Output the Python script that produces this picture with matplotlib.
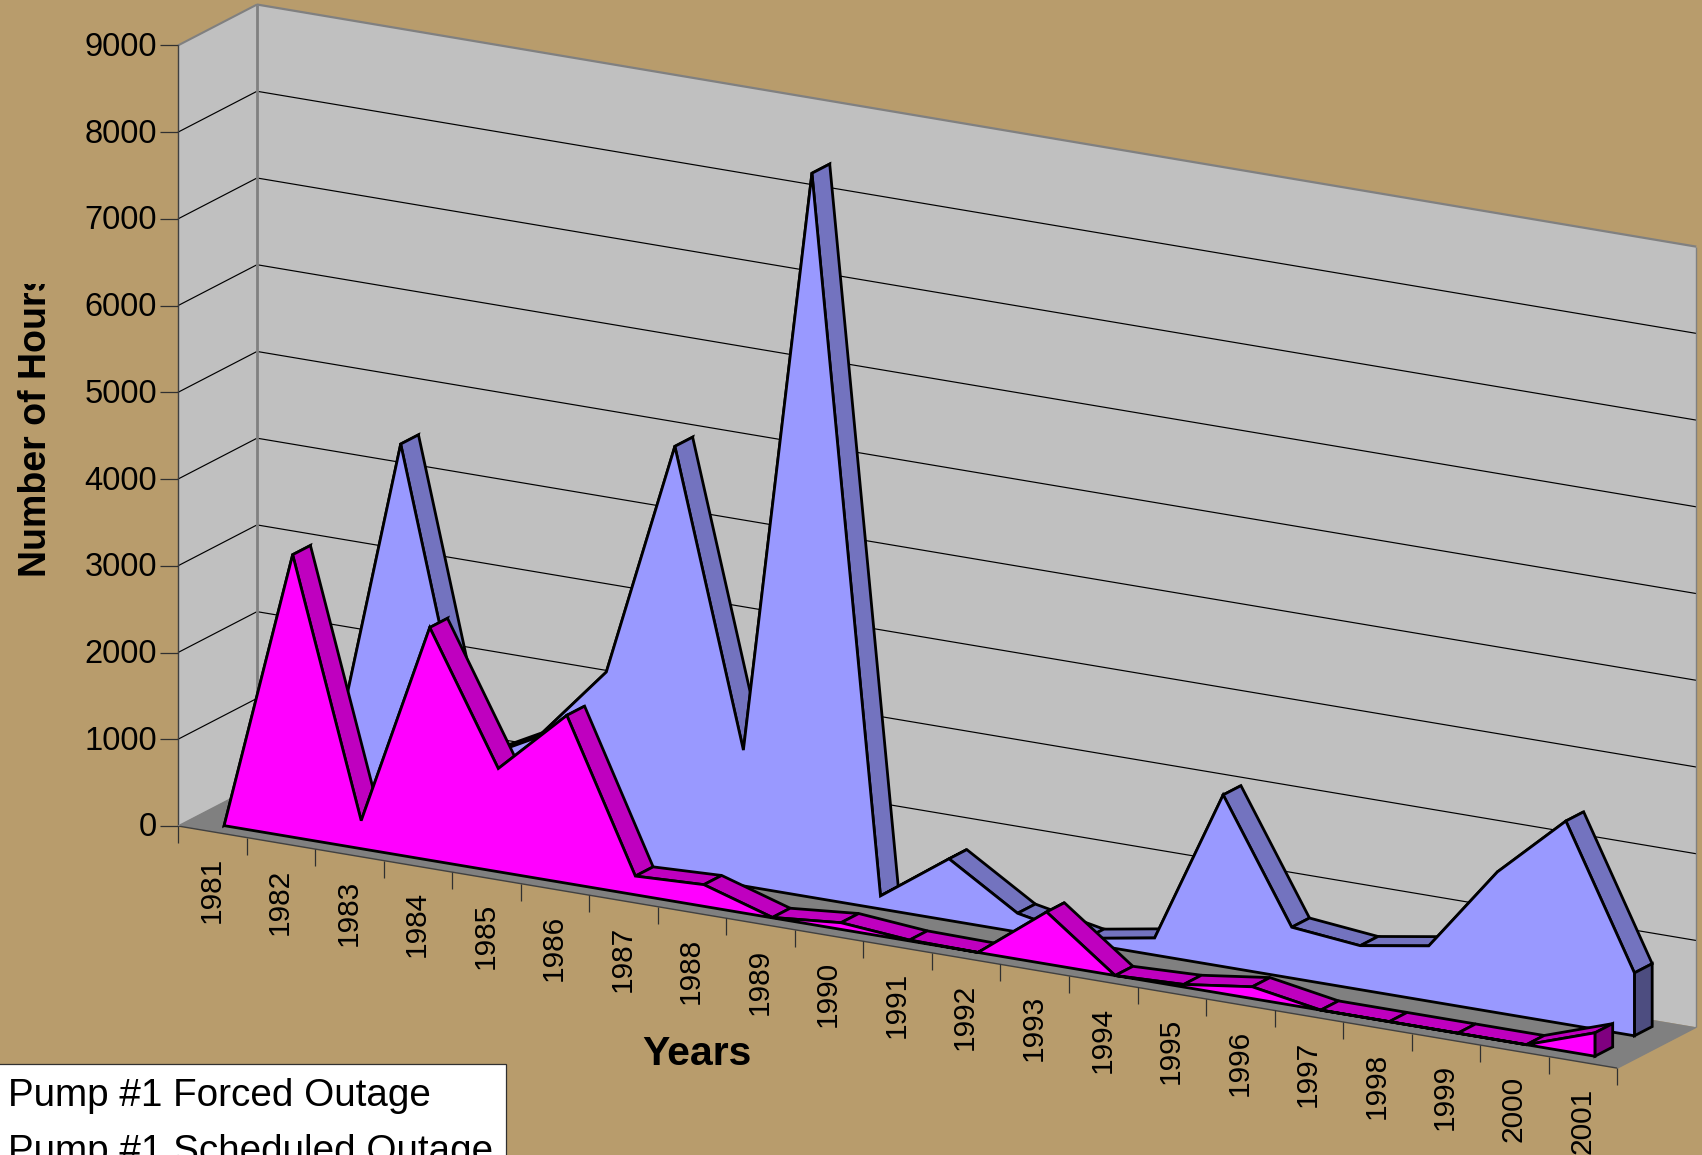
import numpy as np
import matplotlib
matplotlib.use("Agg")
import matplotlib.pyplot as plt
from matplotlib.patches import Polygon, Rectangle
from matplotlib.transforms import Bbox

plt.rcParams['font.family'] = ['Liberation Sans', 'DejaVu Sans']

years = list(range(1981, 2002))
forced = [600, 600, 4430, 900, 1316, 2200, 4935, 1566, 8350, 150, 711, 216, 60, 197, 1980, 587, 507, 638, 1623, 2343, 725]
scheduled = [0, 3257, 323, 2683, 1190, 1936, 216, 250, 5, 77, 10, 0, 600, 0, 30, 136, 0, 0, 0, 0, 270]
y_ticks = list(range(0, 10000, 1000))
series_names = ["Pump #1 Forced Outage", "Pump #1 Scheduled Outage"]
x_title = "Years"
y_title = "Number of Hours"

BG = "#B89C6C"; WALL = "#C0C0C0"; FLOOR = "#808080"; EDGE = "#808080"
BLUE = ("#9999FF", "#7373BF", "#4D4D80")
PINK = ("#FF00FF", "#BF00BF", "#800080")

# Oblique projection of (category, value, depth) on to figure pixels
X0, Y0, CX, CY, VY, DX, DY = 178.0, 826.0, 68.54, 11.53, 0.08673, 79.0, -40.9
def P(c, v, d):
    return (X0 + np.asarray(c) * CX + d * DX, Y0 + np.asarray(c) * CY - np.asarray(v) * VY + d * DY)

fig = plt.figure(figsize=(17.02, 11.55), dpi=100, facecolor=BG)
ax = fig.add_axes([0, 0, 1, 1])
ax.set_xlim(0, 1702); ax.set_ylim(1155, 0); ax.axis("off")
N = len(years)
VMAX = y_ticks[-1]

def poly(pts, fc, ec="none", lw=0, z=1):
    ax.add_patch(Polygon(pts, closed=True, facecolor=fc, edgecolor=ec, linewidth=lw, zorder=z, joinstyle="miter"))

def line(a, b, color="k", lw=0.8, z=2):
    ax.plot([a[0], b[0]], [a[1], b[1]], color=color, lw=lw, zorder=z, solid_capstyle="butt")

# Walls and floor
poly([P(0, 0, 0), P(0, 0, 1), P(0, VMAX, 1), P(0, VMAX, 0)], WALL)
poly([P(0, 0, 1), P(N, 0, 1), P(N, VMAX, 1), P(0, VMAX, 1)], WALL)
poly([P(0, 0, 0), P(N, 0, 0), P(N, 0, 1), P(0, 0, 1)], FLOOR, z=1.5)

# Gridlines
for v in y_ticks[1:-1]:
    line(P(0, v, 0), P(0, v, 1), lw=0.85)
    line(P(0, v, 1), P(N, v, 1), lw=0.85)

# Wall edges
line(P(0, 0, 1), P(0, VMAX, 1), EDGE, 2, 2.2)
line(P(0, VMAX, 0), P(0, VMAX, 1), EDGE, 1.5, 2.2)
line(P(0, VMAX, 1), P(N, VMAX, 1), EDGE, 1.6, 2.2)
line(P(N, 0, 1), P(N, VMAX, 1), EDGE, 1, 2.2)
line(P(0, 0, 0), P(0, VMAX, 0), "#404040", 1, 2.2)
line(P(0, 0, 0), P(N, 0, 0), "#404040", 1, 2.2)
line(P(0, 0, 0), P(0, 0, 1), EDGE, 1, 2.2)
line(P(N, 0, 0), P(N, 0, 1), EDGE, 1, 2.2)

# Axis ticks and labels
for v in y_ticks:
    x, y = P(0, v, 0)
    ax.plot([x - 18, x], [y, y], color="#303030", lw=0.9, zorder=2.3, solid_capstyle="butt")
    ax.text(x - 21, y + 2, str(v), ha="right", va="center", fontsize=23.5, color="k")
for i in range(N + 1):
    x, y = P(i, 0, 0)
    ax.plot([x, x], [y, y + 17], color="#303030", lw=0.9, zorder=2.3, solid_capstyle="butt")
for i, yr in enumerate(years):
    x, y = P(i + 0.5, 0, 0)
    ax.text(x - 1, y + 25, str(yr), rotation=90, ha="center", va="top", fontsize=21.5, color="k")

ax.text(697, 1054, x_title, ha="center", va="center", fontsize=29.5, fontweight="bold")
t = ax.text(36.5, 577, y_title, rotation=90, ha="center", va="bottom", fontsize=27, fontweight="bold")
t.set_clip_box(Bbox([[0, 1155 - 577], [70, 1155 - 284]]))
t.set_clip_on(True)

# Series
LW = 2.0
def draw_area(vals, d0, d1, cols, z):
    cats = np.arange(N) + 0.5
    vals = np.asarray(vals, float)
    for i in range(N - 1):
        poly([P(cats[i], vals[i], d0), P(cats[i + 1], vals[i + 1], d0),
              P(cats[i + 1], vals[i + 1], d1), P(cats[i], vals[i], d1)], cols[1], "k", LW, z + 0.1)
    poly([P(cats[-1], 0, d0), P(cats[-1], vals[-1], d0),
          P(cats[-1], vals[-1], d1), P(cats[-1], 0, d1)], cols[2], "k", LW, z + 0.2)
    front = [P(cats[0], 0, d0)] + [P(c, v, d0) for c, v in zip(cats, vals)] + [P(cats[-1], 0, d0)]
    poly(front, cols[0], "k", LW, z + 0.3)

draw_area(forced, 0.65, 0.875, BLUE, 3)
draw_area(scheduled, 0.15, 0.375, PINK, 4)

# Legend box, which runs off the figure
ax.add_patch(Rectangle((-3, 1064), 509, 100, facecolor="white", edgecolor="#303030", lw=0.9, zorder=6))
ax.text(8, 1106, series_names[0], ha="left", va="baseline", fontsize=27.8, color="k", zorder=7)
ax.text(8, 1162, series_names[1], ha="left", va="baseline", fontsize=27.8, color="k", zorder=7)

fig.savefig("out.png", dpi=100, facecolor=BG)
